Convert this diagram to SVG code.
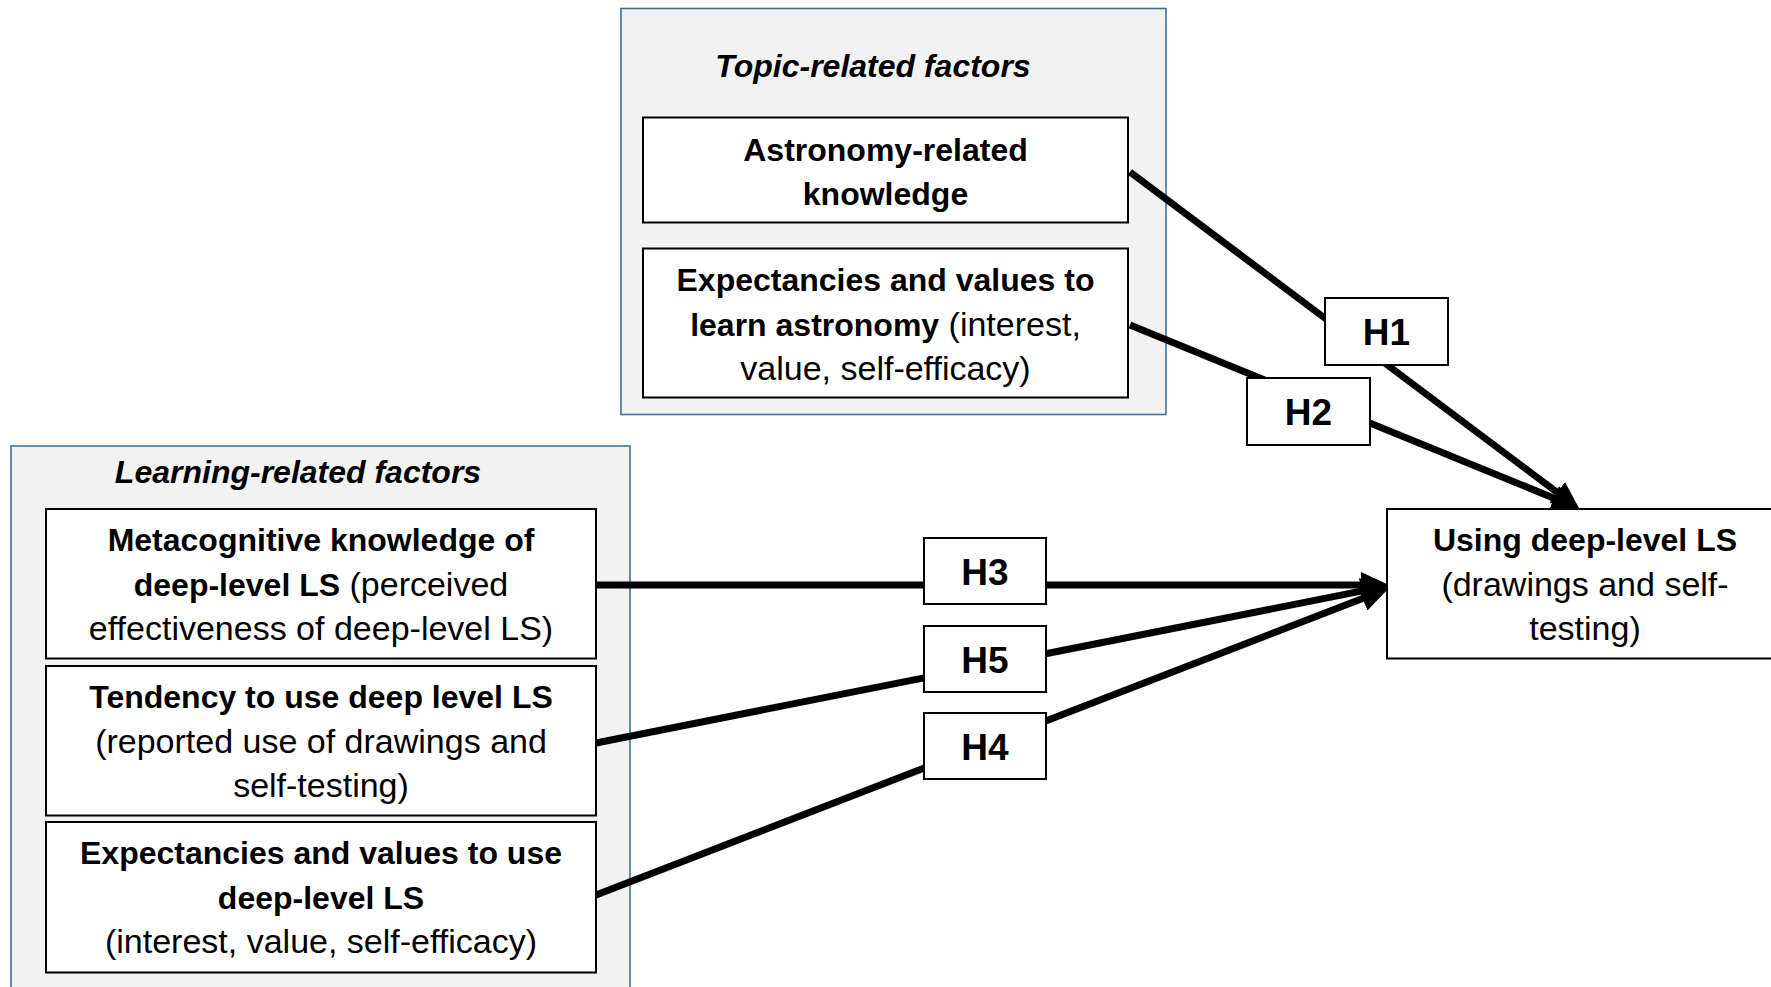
<svg xmlns="http://www.w3.org/2000/svg" width="1771" height="987" viewBox="0 0 1771 987">
<style>
text{font-family:"Liberation Sans",Arial,sans-serif;fill:#000;text-anchor:middle}
.group{fill:#f2f2f2;stroke:#41719c;stroke-width:1.6}
.box{fill:#fff;stroke:#000;stroke-width:2}
.title{font-size:32px;font-weight:bold;font-style:italic}
.b{font-size:32px;font-weight:bold}
.r{font-size:34px;font-weight:normal}
.h{font-size:37px;font-weight:bold}
.conn{stroke:#000;stroke-width:7;fill:none}
</style>
<defs>
<marker id="arr" markerUnits="userSpaceOnUse" markerWidth="28" markerHeight="26" viewBox="0 0 28 26" refX="6" refY="13" orient="auto">
<path d="M0,0 L28,13 L0,26 z" fill="#000"/>
</marker>
</defs>
<rect width="1771" height="987" fill="#fff"/>
<g id="topic-group">
<rect class="group" x="621" y="8.5" width="545" height="406"/>
<text class="title" x="873" y="77">Topic-related factors</text>
</g>
<g id="learning-group">
<rect class="group" x="11" y="446" width="619" height="560"/>
<text class="title" x="298" y="483">Learning-related factors</text>
</g>
<g id="connectors">
<path class="conn" d="M1130,172 L1562,496" marker-end="url(#arr)"/>
<path class="conn" d="M1130,325 L1559.5,500.4" marker-end="url(#arr)"/>
<path class="conn" d="M596,585 L1367,585" marker-end="url(#arr)"/>
<path class="conn" d="M596,743 L1367.4,589.9" marker-end="url(#arr)"/>
<path class="conn" d="M596,895 L1368.3,596.2" marker-end="url(#arr)"/>
</g>
<g id="astronomy-knowledge">
<rect class="box" x="643" y="117.5" width="485" height="105"/>
<text class="b" x="885.5" y="160.5">Astronomy-related</text>
<text class="b" x="885.5" y="205">knowledge</text>
</g>
<g id="astronomy-expectancies">
<rect class="box" x="643" y="248.5" width="485" height="149"/>
<text class="b" x="885.5" y="291">Expectancies and values to</text>
<text x="885.5" y="335.5"><tspan class="b">learn astronomy</tspan><tspan class="r"> (interest,</tspan></text>
<text class="r" x="885.5" y="380">value, self-efficacy)</text>
</g>
<g id="metacognitive">
<rect class="box" x="46" y="509" width="550" height="149.5"/>
<text class="b" x="321" y="551">Metacognitive knowledge of</text>
<text x="321" y="595.5"><tspan class="b">deep-level LS</tspan><tspan class="r"> (perceived</tspan></text>
<text class="r" x="321" y="640">effectiveness of deep-level LS)</text>
</g>
<g id="tendency">
<rect class="box" x="46" y="666" width="550" height="149.5"/>
<text class="b" x="321" y="708">Tendency to use deep level LS</text>
<text class="r" x="321" y="752.5">(reported use of drawings and</text>
<text class="r" x="321" y="797">self-testing)</text>
</g>
<g id="ls-expectancies">
<rect class="box" x="46" y="822" width="550" height="150.5"/>
<text class="b" x="321" y="864">Expectancies and values to use</text>
<text class="b" x="321" y="908.5">deep-level LS</text>
<text class="r" x="321" y="953">(interest, value, self-efficacy)</text>
</g>
<g id="using-deep-level">
<rect class="box" x="1387" y="509" width="420" height="149.5"/>
<text class="b" x="1585" y="551">Using deep-level LS</text>
<text class="r" x="1585" y="595.5">(drawings and self-</text>
<text class="r" x="1585" y="640">testing)</text>
</g>
<g id="H1">
<rect class="box" x="1325" y="298" width="123" height="67"/>
<text class="h" x="1386.5" y="345">H1</text>
</g>
<g id="H2">
<rect class="box" x="1247" y="378" width="123" height="67"/>
<text class="h" x="1308.5" y="425">H2</text>
</g>
<g id="H3">
<rect class="box" x="924" y="538" width="122" height="66"/>
<text class="h" x="985" y="584.5">H3</text>
</g>
<g id="H5">
<rect class="box" x="924" y="626" width="122" height="66"/>
<text class="h" x="985" y="672.5">H5</text>
</g>
<g id="H4">
<rect class="box" x="924" y="713" width="122" height="66"/>
<text class="h" x="985" y="759.5">H4</text>
</g>
</svg>
